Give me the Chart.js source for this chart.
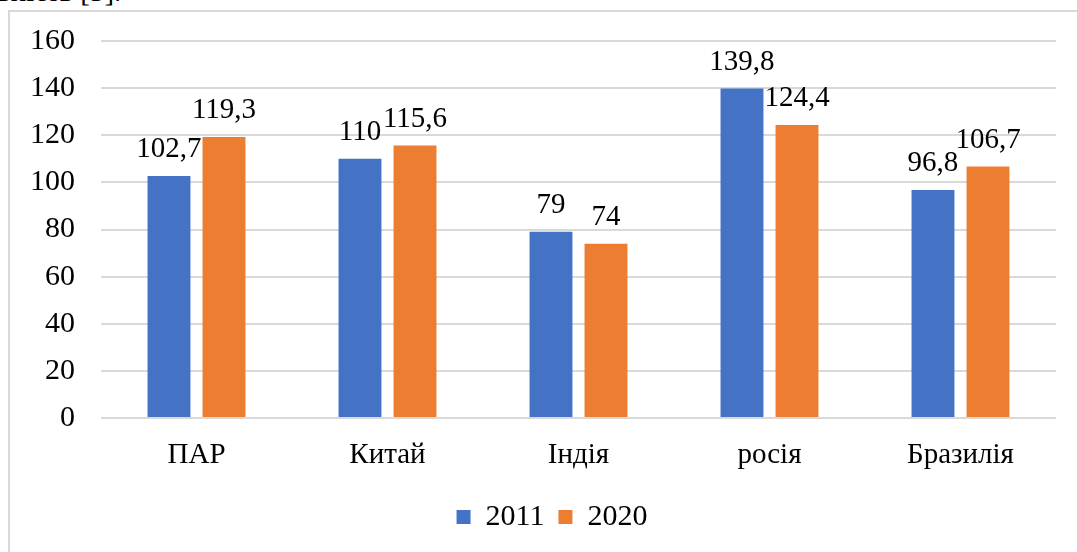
<!DOCTYPE html>
<html>
<head>
<meta charset="utf-8">
<script src="https://cdn.jsdelivr.net/npm/chart.js@4/dist/chart.umd.min.js"></script>
<style>
  body { margin: 0; background: #fff; overflow: hidden; }
  #wrap { position: relative; width: 1077px; height: 552px; overflow: hidden; }
  #frame { position: absolute; left: 8px; top: 10px; right: 0; bottom: 0;
           border-left: 2px solid #d9d9d9; border-top: 2px solid #d9d9d9; }
  #above { position: absolute; left: -3px; top: -23px; font: 29px "Liberation Serif", serif;
           line-height: 29px; color: #000; white-space: nowrap; }
  #box { position: absolute; left: 0; top: 0; width: 1077px; height: 552px; }
</style>
</head>
<body>
<div id="wrap">
  <div id="above">вність [3].</div>
  <div id="frame"></div>
  <div id="box"><canvas id="myChart"></canvas></div>
</div>
<script>
'use strict';

// chart data
const countries = ['ПАР', 'Китай', 'Індія', 'росія', 'Бразилія'];
const years = ['2011', '2020'];
const values2011 = [102.7, 110, 79, 139.8, 96.8];
const values2020 = [119.3, 115.6, 74, 124.4, 106.7];
const yTicks = [0, 20, 40, 60, 80, 100, 120, 140, 160];

const serif = '"Liberation Serif", "Times New Roman", serif';

// labels over the bars (no datalabels plugin available)
const barLabels = {
    id: 'barLabels',
    afterDatasetsDraw(chart) {
        const ctx = chart.ctx;
        ctx.save();
        ctx.font = '29px ' + serif;
        ctx.fillStyle = '#000';
        ctx.textAlign = 'center';
        ctx.textBaseline = 'alphabetic';
        chart.data.datasets.forEach(function (ds, i) {
            const meta = chart.getDatasetMeta(i);
            meta.data.forEach(function (bar, j) {
                let txt = String(ds.data[j]).replace('.', ',');
                ctx.fillText(txt, bar.x, bar.y - 19);
            });
        });
        ctx.restore();
    }
};

// legend in the original sits a bit right of centre
const legendShift = {
    id: 'legendShift',
    beforeDraw(chart) {
        chart.legend.left = 48;
    }
};

const data = {
    labels: countries,
    datasets: [{
        label: years[0],
        data: values2011,
        backgroundColor: '#4472C4'
    }, {
        label: years[1],
        data: values2020,
        backgroundColor: '#ED7D31'
    }]
};

const config = {
    type: 'bar',
    data: data,
    plugins: [barLabels, legendShift],
    options: {
        responsive: false,
        animation: false,
        categoryPercentage: 0.576,
        barPercentage: 0.78,
        layout: { padding: { left: 0, right: 21, top: 41, bottom: 10 } },
        plugins: {
            tooltip: { enabled: false },
            legend: {
                position: 'bottom',
                labels: {
                    color: '#000',
                    font: { family: serif, size: 30 },
                    boxWidth: 14,
                    boxHeight: 14,
                    padding: 14
                }
            }
        },
        scales: {
            x: {
                grid: { display: false, drawTicks: false },
                border: { display: false },
                ticks: { color: '#000', font: { family: serif, size: 29 }, padding: 20 },
                afterFit(scale) { scale.height = 70; }
            },
            y: {
                min: 0,
                max: 160,
                afterBuildTicks(scale) { scale.ticks = yTicks.map(v => ({ value: v })); },
                grid: { color: '#d9d9d9', lineWidth: 2, drawTicks: false },
                border: { display: false },
                ticks: { color: '#000', font: { family: serif, size: 30 }, padding: 26 },
                afterFit(scale) {
                    scale.width = 101;
                    // tick padding otherwise pushes the plot top down
                    scale.paddingTop = 0;
                }
            }
        }
    }
};

const canvas = document.getElementById('myChart');
canvas.width = 1077;
canvas.height = 552;
const myChart = new Chart(canvas, config);
</script>
</body>
</html>
